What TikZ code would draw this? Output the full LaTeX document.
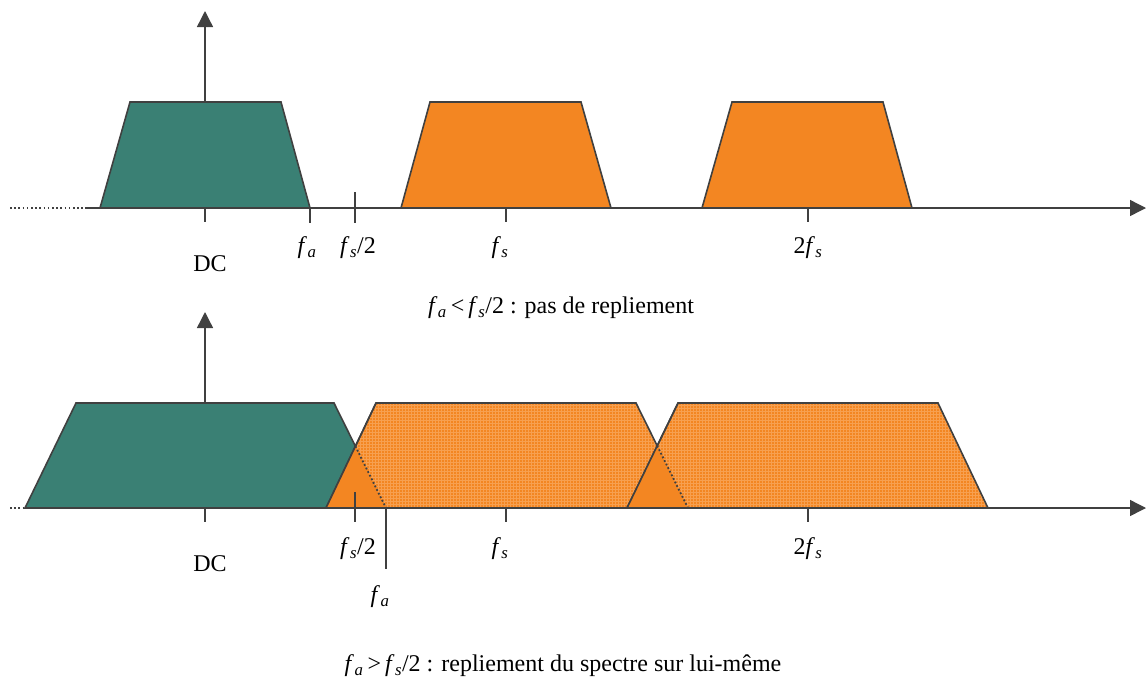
\documentclass[tikz,border=0pt]{standalone}
\usepackage{fontspec}
\setmainfont{Liberation Serif}
\usetikzlibrary{patterns,arrows.meta}
\definecolor{teal1}{RGB}{58,128,116}
\definecolor{orng}{RGB}{243,134,34}
\definecolor{orngl}{RGB}{247,160,80}
\definecolor{edge}{RGB}{64,64,64}
\newcommand{\fa}{\textit{f}\kern0.5pt\textsubscript{\textit{a}}}
\newcommand{\fs}{\textit{f}\kern0.5pt\textsubscript{\textit{s}}}
\tikzset{
  ax/.style={edge, line width=1.4pt},
  axarrow/.style={ax, -{Triangle[length=16pt,width=16pt]}},
  tick/.style={edge, line width=1.4pt},
  band/.style={draw=edge, line width=1.6pt, line join=miter},
  gband/.style={band, fill=teal1},
  oband/.style={band, fill=orng},
  pband/.style={band, preaction={fill=orng}, pattern=grid, pattern color=orngl},
  dotl/.style={edge, line width=1.8pt, dash pattern=on 1.8pt off 2.2pt},
  axdot/.style={edge, line width=1.6pt, dash pattern=on 1.6pt off 2.6pt},
  lbl/.style={font=\fontsize{24}{26}\selectfont, inner sep=0pt},
}
\begin{document}
\begin{tikzpicture}[x=1pt,y=-1pt]
\useasboundingbox (0,0) rectangle (1146,681);
% ================= top =================
\draw[axdot] (10,208) -- (85,208);
\draw[axarrow] (85,208) -- (1146,208);
\draw[axarrow] (205,208) -- (205,11);
\draw[gband] (100,208) -- (130,102) -- (281,102) -- (310,208) -- cycle;
\draw[oband] (401,208) -- (430,102) -- (581,102) -- (611,208) -- cycle;
\draw[oband] (702,208) -- (732,102) -- (883,102) -- (912,208) -- cycle;
\draw[tick] (205,208) -- (205,222);
\draw[tick] (310,208) -- (310,223);
\draw[tick] (355,192) -- (355,223);
\draw[tick] (506,208) -- (506,222);
\draw[tick] (808,208) -- (808,222);
\node[lbl] (dc1) at (210,264) {DC};
\node[lbl] (fa1) at (307,248) {\fa};
\node[lbl] (fsh1) at (358,248) {\fs/2};
\node[lbl] (fs1) at (500,248) {\fs};
\node[lbl] (tfs1) at (808,248) {2\fs};
\node[lbl] (cap1) at (561,308) {\fa\,<\,\fs/2 : pas de repliement};
% ================= bottom =================
\draw[axdot] (10,508) -- (25,508);
\draw[axarrow] (25,508) -- (1146,508);
\draw[axarrow] (205,508) -- (205,312);
\draw[gband] (25,508) -- (76,403) -- (334,403) -- (386,508) -- cycle;
\draw[pband] (326,508) -- (376,403) -- (636,403) -- (688,508) -- cycle;
\fill[orng] (326,508) -- (355.4,446.2) -- (386,508) -- cycle;
\draw[band] (326,508) -- (376,403);
\draw[dotl] (355.4,446.2) -- (386,508);
\draw[pband] (627,508) -- (678,403) -- (938,403) -- (988,508) -- cycle;
\fill[orng] (627,508) -- (657.2,445.8) -- (688,508) -- cycle;
\draw[band] (627,508) -- (678,403);
\draw[dotl] (657.2,445.8) -- (688,508);
\draw[ax] (25,508) -- (1140,508);
\draw[tick] (205,508) -- (205,522);
\draw[tick] (355,492) -- (355,522);
\draw[tick] (386,508) -- (386,569);
\draw[tick] (506,508) -- (506,522);
\draw[tick] (808,508) -- (808,522);
\node[lbl] (dc2) at (210,564) {DC};
\node[lbl] (fsh2) at (358,549) {\fs/2};
\node[lbl] (fs2) at (500,549) {\fs};
\node[lbl] (tfs2) at (808,549) {2\fs};
\node[lbl] (fa2) at (380,597) {\fa};
\node[lbl] (cap2) at (563,666) {\fa\,>\,\fs/2 : repliement du spectre sur lui-même};
\end{tikzpicture}
\end{document}
